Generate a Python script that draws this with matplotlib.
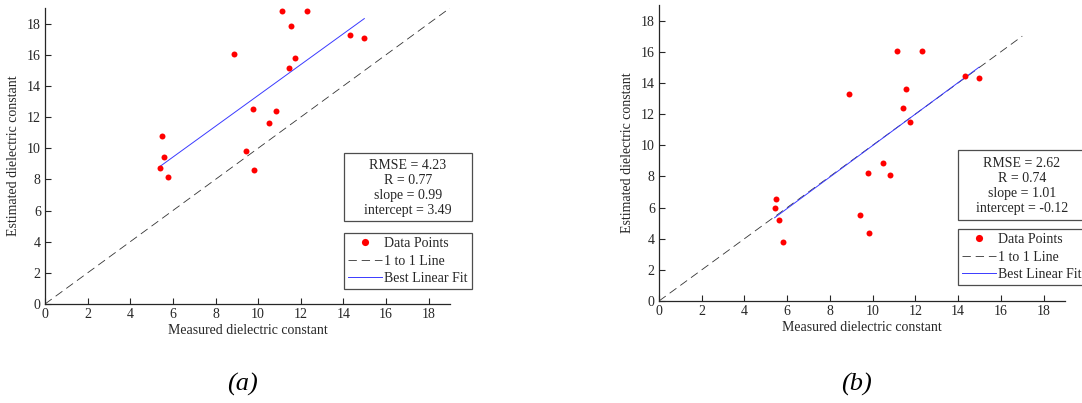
import numpy as np
import matplotlib
matplotlib.use("Agg")
import matplotlib.pyplot as plt
from matplotlib.patches import Rectangle

plt.rcParams['font.family'] = ['Liberation Serif', 'DejaVu Serif']
plt.rcParams['lines.scale_dashes'] = False

# measured dielectric constant (same samples for both models)
measured = [11.14, 12.30, 11.55, 14.30, 14.98, 8.87, 11.74, 11.44, 9.78,
            10.83, 10.50, 5.49, 5.60, 9.41, 5.41, 9.82, 5.79]

# estimated values, model (a) and model (b)
estimated_a = [18.82, 18.78, 17.84, 17.24, 17.07, 16.06, 15.78, 15.18, 12.51,
               12.40, 11.63, 10.81, 9.46, 9.83, 8.74, 8.63, 8.12]
estimated_b = [16.06, 16.02, 13.60, 14.45, 14.30, 13.28, 11.48, 12.40, 8.24,
               8.07, 8.87, 6.53, 5.20, 5.50, 5.97, 4.39, 3.81]

# fit statistics
rmse = [4.23, 2.62]
r_val = [0.77, 0.74]
slope = [0.99, 1.01]
intercept = [3.49, -0.12]
one_to_one_end = [19, 17]
panel_tags = ['(a)', '(b)']

ticks = list(range(0, 19, 2))
W, H = 1082, 403


def fx(px):
    return px / W


def fy(py):
    return 1 - py / H


fig = plt.figure(figsize=(W / 100, H / 100), dpi=100)

# pixel layout: axes box, stats box, legend top-left, panel tag centre
layout = [
    dict(ax=(45, 8, 450, 304), stats=(344, 153, 472, 221), leg=(344, 233), tag=(242, 384)),
    dict(ax=(659, 5, 1065, 301), stats=(958, 150, 1090, 220), leg=(958, 229), tag=(856, 384)),
]

ink = '0.15'
for i, est in enumerate([estimated_a, estimated_b]):
    L = layout[i]
    x0, y0, x1, y1 = L['ax']
    ax = fig.add_axes([fx(x0), fy(y1), fx(x1 - x0), (y1 - y0) / H])

    x = np.array(measured)
    y = np.array(est)
    pts, = ax.plot(x, y, 'o', color='red', ms=4.3, mec='red', mew=0, zorder=3,
                   label='Data Points')
    e = one_to_one_end[i]
    one, = ax.plot([0, e], [0, e], color='0.2', lw=0.6, dashes=(6, 3.5),
                   label='1 to 1 Line')
    xf = np.array([x.min(), x.max()])
    fit, = ax.plot(xf, slope[i] * xf + intercept[i], color='#3a3aff', lw=0.7,
                   label='Best Linear Fit')

    ax.set_xlim(0, 19)
    ax.set_ylim(0, 19)
    ax.set_xticks(ticks)
    ax.set_yticks(ticks)
    for s in ['top', 'right']:
        ax.spines[s].set_visible(False)
    for s in ['left', 'bottom']:
        ax.spines[s].set_color(ink)
        ax.spines[s].set_linewidth(0.9)
    ax.tick_params(direction='in', length=4, width=0.8, colors=ink,
                   labelsize=10, pad=3)
    ax.set_xlabel('Measured dielectric constant', fontsize=10, color=ink, labelpad=2)
    ax.set_ylabel('Estimated dielectric constant', fontsize=10, color=ink, labelpad=5)

    # statistics box
    sx0, sy0, sx1, sy1 = L['stats']
    fig.patches.append(Rectangle((fx(sx0), fy(sy1)), fx(sx1 - sx0), (sy1 - sy0) / H,
                                 transform=fig.transFigure, fc='white', ec='0.3',
                                 lw=0.9, zorder=5))
    txt = (f'RMSE = {rmse[i]:.2f}\nR = {r_val[i]:.2f}\n'
           f'slope = {slope[i]:.2f}\nintercept = {intercept[i]:.2f}')
    cx = min((sx0 + sx1) / 2, sx0 + 64)
    fig.text(fx(cx), fy((sy0 + sy1) / 2 + 1), txt, ha='center', va='center',
             fontsize=10, color=ink, linespacing=1.17, zorder=6)

    lx, ly = L['leg']
    leg = ax.legend(handles=[pts, one, fit], loc='upper left',
                    bbox_to_anchor=(fx(lx), fy(ly)), bbox_transform=fig.transFigure,
                    fontsize=10, frameon=True, fancybox=False, framealpha=1,
                    edgecolor='0.3', borderpad=0.3, borderaxespad=0,
                    handlelength=2.45, handletextpad=0.15, labelspacing=0.32,
                    numpoints=1, markerscale=1.2)
    leg.get_frame().set_linewidth(0.9)
    for t in leg.get_texts():
        t.set_color(ink)

    tx, ty = L['tag']
    fig.text(fx(tx), fy(ty), panel_tags[i], ha='center', va='center',
             fontsize=19, style='italic', color='black')

fig.savefig('out.png', dpi=100)
